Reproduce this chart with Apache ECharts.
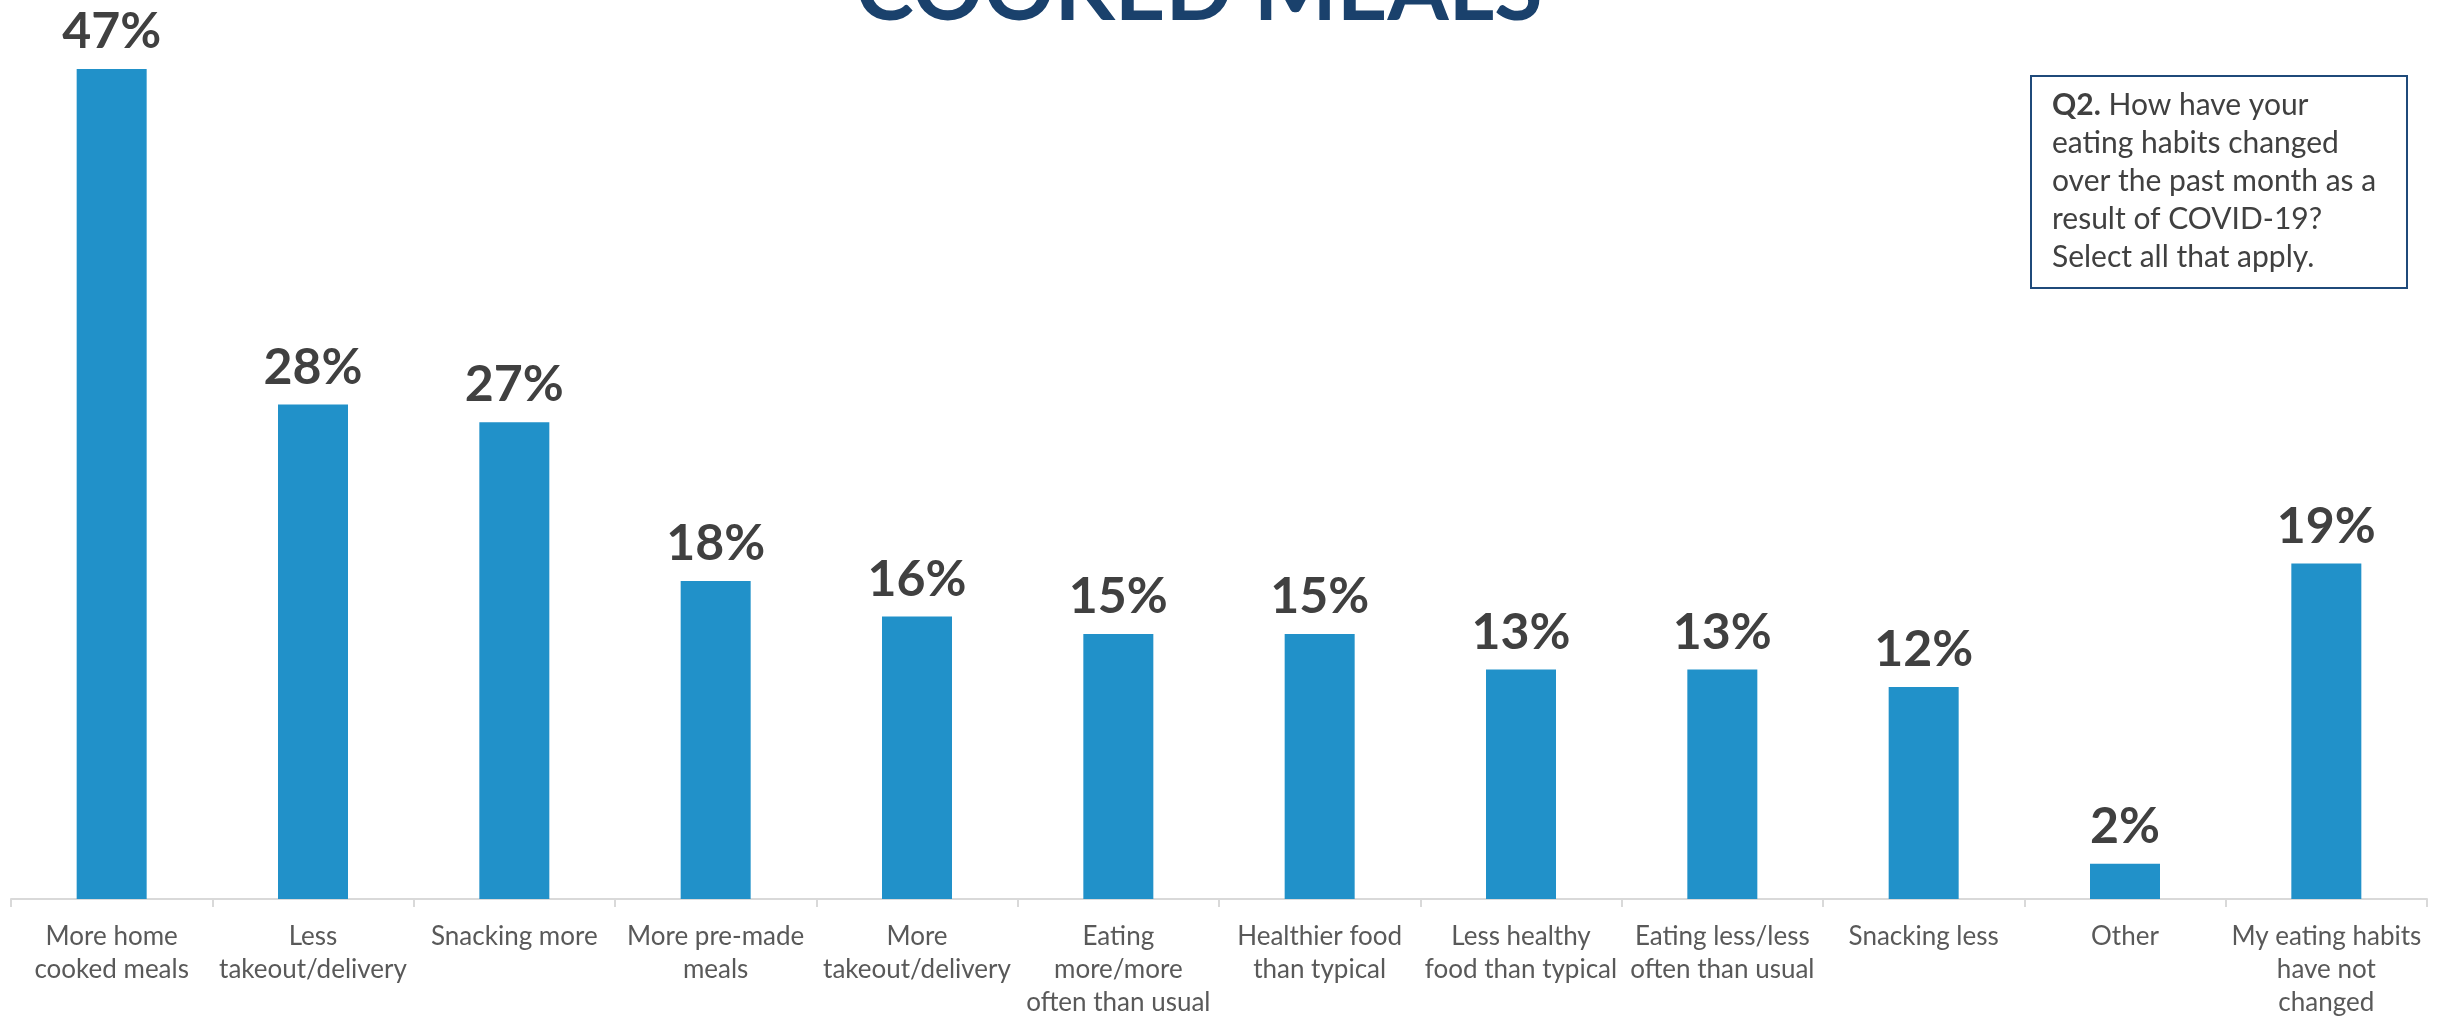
<!DOCTYPE html>
<html>
<head>
<meta charset="utf-8">
<title>Eating habits changes</title>
<script src="https://cdn.jsdelivr.net/npm/echarts@6/dist/echarts.min.js"></script>
<style>
  html, body { margin: 0; padding: 0; background: #ffffff; }
  #chart { width: 2453px; height: 1020px; }
</style>
</head>
<body>
<div id="chart"></div>
<script>
// Response categories (line breaks as they wrap under the axis)
const categories = [
  'More home\ncooked meals',
  'Less\ntakeout/delivery',
  'Snacking more',
  'More pre-made\nmeals',
  'More\ntakeout/delivery',
  'Eating\nmore/more\noften than usual',
  'Healthier food\nthan typical',
  'Less healthy\nfood than typical',
  'Eating less/less\noften than usual',
  'Snacking less',
  'Other',
  'My eating habits\nhave not\nchanged'
];

// Share of respondents selecting each option (%)
const shares = [47, 28, 27, 18, 16, 15, 15, 13, 13, 12, 2, 19];

// Question note shown in the boxed callout
const questionLead = 'Q2.';
const questionLines = [
  ' How have your',
  'eating habits changed',
  'over the past month as a',
  'result of COVID-19?',
  'Select all that apply.'
];

const titleText = 'COOKED MEALS';

const FONT = 'Lato, "Open Sans", sans-serif';

const chart = echarts.init(document.getElementById('chart'));

chart.setOption({
  backgroundColor: '#ffffff',
  animation: false,
  grid: { left: 11, right: 26, top: 16, bottom: 121, containLabel: false },
  xAxis: {
    type: 'category',
    data: categories,
    axisLine: { show: true, lineStyle: { color: '#d9d9d9', width: 2 } },
    axisTick: { show: true, length: 8, lineStyle: { color: '#d9d9d9', width: 2 } },
    axisLabel: {
      interval: 0,
      margin: 21,
      color: '#595959',
      fontFamily: FONT,
      fontSize: 26,
      lineHeight: 33
    }
  },
  yAxis: {
    type: 'value',
    min: 0,
    max: 50,
    show: false,
    splitLine: { show: false }
  },
  series: [{
    type: 'bar',
    data: shares,
    barWidth: 70,
    itemStyle: { color: '#2191c9' },
    label: {
      show: true,
      position: 'top',
      distance: 12,
      formatter: '{c}%',
      color: '#404040',
      fontFamily: FONT,
      fontWeight: 'bold',
      fontSize: 50
    }
  }],
  graphic: [
    {
      type: 'text',
      x: 1199,
      y: 36,
      style: {
        text: titleText,
        fill: '#1a416c',
        font: 'bold 88px ' + FONT,
        align: 'center',
        verticalAlign: 'bottom'
      }
    },
    {
      type: 'rect',
      shape: { x: 2031, y: 76, width: 376, height: 212 },
      style: { fill: '#ffffff', stroke: '#1f4a7a', lineWidth: 2 }
    },
    {
      type: 'text',
      x: 2052,
      y: 86,
      style: {
        text: '{b|' + questionLead + '}{r|' + questionLines[0] + '}\n' +
              questionLines.slice(1).map(l => '{r|' + l + '}').join('\n'),
        rich: {
          b: { font: 'bold 30px ' + FONT, fill: '#404040', lineHeight: 38 },
          r: { font: '30px ' + FONT, fill: '#404040', lineHeight: 38 }
        },
        verticalAlign: 'top'
      }
    }
  ]
});
</script>
</body>
</html>
